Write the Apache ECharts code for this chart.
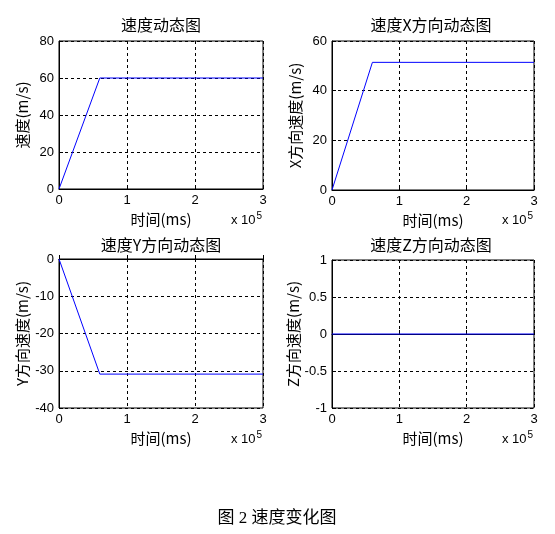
<!DOCTYPE html>
<html>
<head>
<meta charset="utf-8">
<script src="https://cdn.jsdelivr.net/npm/echarts@6/dist/echarts.min.js"></script>
<style>
  html, body { margin: 0; padding: 0; background: #fff; }
  #chart { width: 555px; height: 534px; }
</style>
</head>
<body>
<div id="chart"></div>
<script>
// time in ms, axis shows x 10^5
const timeMs = [0, 60000, 300000];
const speed = [0, 60, 60];
const speedX = [0, 51.4, 51.4];
const speedY = [0, -30.9, -30.9];
const speedZ = [0, 0, 0];

const titles = ['速度动态图', '速度X方向动态图', '速度Y方向动态图', '速度Z方向动态图'];
const yNames = ['速度(m/s)', 'X方向速度(m/s)', 'Y方向速度(m/s)', 'Z方向速度(m/s)'];
const xName = '时间(ms)';
const yRanges = [[0, 80, 20], [0, 60, 20], [-40, 0, 10], [-1, 1, 0.5]];
const caption = '图 2 速度变化图';

const font = 'Arial, "Liberation Sans", "Noto Sans CJK SC", sans-serif';
const cjk = '"Noto Sans CJK SC", sans-serif';

const grids = [
  { left: 59, top: 41, width: 204, height: 148 },
  { left: 332, top: 41, width: 202, height: 149 },
  { left: 59, top: 259, width: 204, height: 149 },
  { left: 332, top: 260, width: 202, height: 148 }
];

const pair = (xs, ys) => xs.map((x, i) => [x, ys[i]]);
const seriesData = [speed, speedX, speedY, speedZ];

const option = {
  animation: false,
  backgroundColor: '#fff',
  grid: grids.map(g => Object.assign({ show: true, borderColor: '#000', borderWidth: 1, backgroundColor: '#fff' }, g)),
  xAxis: grids.map((g, i) => ({
    gridIndex: i,
    type: 'value',
    min: 0, max: 300000, interval: 100000,
    name: xName,
    nameLocation: 'middle',
    nameGap: 23,
    nameTextStyle: { color: '#000', fontSize: 15, fontFamily: cjk },
    axisLine: { show: true, lineStyle: { color: '#000' } },
    axisTick: { show: true, inside: true, length: 4, lineStyle: { color: '#000' } },
    axisLabel: { color: '#000', fontSize: 13, fontFamily: font, margin: 5, formatter: v => String(v / 100000) },
    splitLine: { show: true, lineStyle: { color: '#000', type: [3, 3], width: 1 } }
  })),
  yAxis: grids.map((g, i) => ({
    gridIndex: i,
    type: 'value',
    min: yRanges[i][0], max: yRanges[i][1], interval: yRanges[i][2],
    name: yNames[i],
    nameLocation: 'middle',
    nameGap: 29,
    nameTextStyle: { color: '#000', fontSize: 15, fontFamily: cjk },
    axisLine: { show: true, lineStyle: { color: '#000' } },
    axisTick: { show: true, inside: true, length: 4, lineStyle: { color: '#000' } },
    axisLabel: { color: '#000', fontSize: 13, fontFamily: font, margin: 5 },
    splitLine: { show: true, lineStyle: { color: '#000', type: [3, 3], width: 1 } }
  })),
  series: seriesData.map((d, i) => ({
    type: 'line',
    xAxisIndex: i,
    yAxisIndex: i,
    data: pair(timeMs, d),
    showSymbol: false,
    symbol: 'none',
    lineStyle: { color: '#0000ff', width: 1 },
    itemStyle: { color: '#0000ff' },
    z: 5
  })),
  graphic: [
    // subplot titles
    ...[[161, 25], [431, 25], [161, 245], [431, 245]].map((p, i) => ({
      type: 'text', x: p[0], y: p[1],
      style: { text: titles[i], fill: '#000', font: '16px ' + cjk, textAlign: 'center', textVerticalAlign: 'middle' }
    })),
    // x 10^5 multipliers
    ...[[231, 229], [502, 229], [231, 448], [502, 448]].map(p => ({
      type: 'text', x: p[0], y: p[1],
      style: {
        text: '{b|x 10}{s|5}',
        textVerticalAlign: 'bottom',
        rich: {
          b: { fontSize: 13, fontFamily: font, fill: '#000', color: '#000' },
          s: { fontSize: 10, fontFamily: font, fill: '#000', color: '#000', verticalAlign: 'top', padding: [0, 0, 8, 1] }
        }
      }
    })),
    {
      type: 'text', x: 277, y: 519,
      style: { text: caption, fill: '#000', font: '17px "Liberation Serif", "Noto Sans CJK SC", serif', textAlign: 'center', textVerticalAlign: 'middle' }
    }
  ]
};

echarts.init(document.getElementById('chart')).setOption(option);
</script>
</body>
</html>
